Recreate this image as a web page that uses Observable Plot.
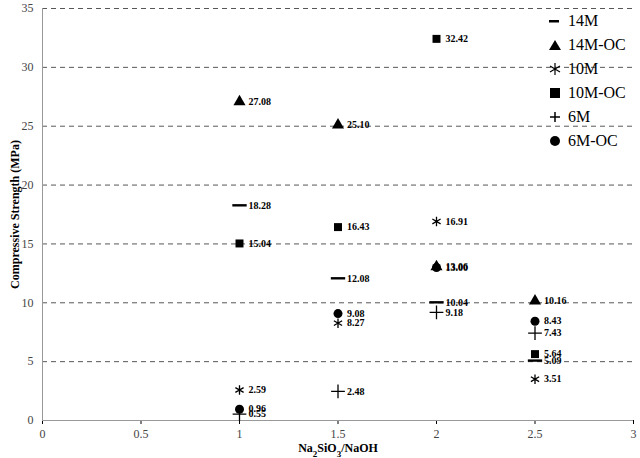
<!DOCTYPE html>
<html><head><meta charset="utf-8">
<script src="https://cdn.jsdelivr.net/npm/d3@7"></script>
<script src="https://cdn.jsdelivr.net/npm/@observablehq/plot@0.6"></script>
<style>
body{margin:0;background:#fff;font-family:"Liberation Serif",serif}
#wrap{position:relative;width:640px;height:458px}
#legend{position:absolute;left:548px;top:9px;font-size:16px;line-height:24px;color:#000}
#legend div{display:flex;align-items:center}
#legend svg{width:14px;height:14px;margin-right:6px}
</style></head><body>
<div id="wrap"><div id="legend"></div></div>
<script>
const xs = [1, 1.5, 2, 2.5];
const s14M   = [18.28, 12.08, 10.04, 5.09];
const s14MOC = [27.08, 25.10, 13.06, 10.16];
const s10M   = [2.59, 8.27, 16.91, 3.51];
const s10MOC = [15.04, 16.43, 32.42, 5.64];
const s6M    = [0.55, 2.48, 9.18, 7.43];
const s6MOC  = [0.96, 9.08, 13.00, 8.43];
const seriesNames = ["14M","14M-OC","10M","10M-OC","6M","6M-OC"];
const seriesVals = [s14M, s14MOC, s10M, s10MOC, s6M, s6MOC];
const yTicks = [0,5,10,15,20,25,30,35];
const xTicks = [0,0.5,1,1.5,2,2.5,3];

const dash = {draw(c, size){ const r = Math.sqrt(size)*0.9; c.moveTo(-r,-1.2); c.lineTo(r,-1.2); c.lineTo(r,1.2); c.lineTo(-r,1.2); c.closePath(); }};
const symbols = [dash, "triangle", "asterisk", "square", "plus", "circle"];
const rows = [];
seriesVals.forEach((v,i)=>v.forEach((y,j)=>rows.push({series:seriesNames[i], x:xs[j], y, lab:y.toFixed(2)})));

const marks = [
  Plot.ruleY(yTicks.filter(d=>d>0), {stroke:"#444", strokeDasharray:"5,4", strokeWidth:0.9}),
  Plot.axisY({ticks:yTicks, tickSize:0, fontSize:12, fill:"#444", label:"Compressive Strength (MPa)", labelAnchor:"center", labelArrow:"none", labelOffset:32, tickFormat:d=>d}),
  Plot.axisX({ticks:xTicks, tickSize:4, fontSize:12, fill:"#444", label:null, tickFormat:d=>d}),
  Plot.ruleX([0], {stroke:"#999"}),
  Plot.ruleY([0], {stroke:"#999"}),
];
seriesNames.forEach((n,i)=>{
  const d = rows.filter(r=>r.series===n);
  const sym = symbols[i];
  const filled = sym!=="asterisk" && sym!=="plus";
  marks.push(Plot.dot(d, {x:"x", y:"y", symbol:()=>sym, r:4.5,
    fill: filled?"black":"none", stroke: filled?"none":"black", strokeWidth:1.3}));
  marks.push(Plot.text(d, {x:"x", y:"y", text:"lab", dx:9, textAnchor:"start", fontWeight:"bold", fontSize:10}));
});
const chart = Plot.plot({
  width:640, height:458, marginLeft:42, marginRight:7, marginTop:8, marginBottom:38,
  style:{fontFamily:"Liberation Serif, serif", background:"white"},
  x:{domain:[0,3]}, y:{domain:[0,35]},
  symbol:{type:"identity"},
  marks
});
const wrap = document.getElementById("wrap");
wrap.insertBefore(chart, wrap.firstChild);
chart.querySelectorAll("[aria-label='y-axis label'] text").forEach(t=>{t.style.fontWeight="bold"; t.style.fontSize="12px"; t.setAttribute("fill","#000");});
const xl = document.createElementNS("http://www.w3.org/2000/svg","text");
xl.setAttribute("x", 338); xl.setAttribute("y", 452); xl.setAttribute("text-anchor","middle");
xl.setAttribute("font-weight","bold"); xl.setAttribute("font-size","12");
xl.innerHTML = 'Na<tspan baseline-shift="sub" font-size="9">2</tspan>SiO<tspan baseline-shift="sub" font-size="9">3</tspan>/NaOH';
chart.appendChild(xl);
const legIcons = [
  '<rect x="1" y="6" width="10" height="2.5" fill="black"/>',
  '<path d="M7,2 L13,12 L1,12Z" fill="black"/>',
  '<path d="M7,1V13M2,4L12,10M2,10L12,4" stroke="black" stroke-width="1.2"/>',
  '<rect x="2" y="2" width="10" height="10" fill="black"/>',
  '<path d="M7,2V12M2,7H12" stroke="black" stroke-width="1.5"/>',
  '<circle cx="7" cy="7" r="5" fill="black"/>'
];
const leg = document.getElementById("legend");
seriesNames.forEach((n,i)=>{ const d=document.createElement("div"); d.innerHTML=`<svg viewBox="0 0 14 14">${legIcons[i]}</svg><span>${n}</span>`; leg.appendChild(d); });
</script></body></html>
